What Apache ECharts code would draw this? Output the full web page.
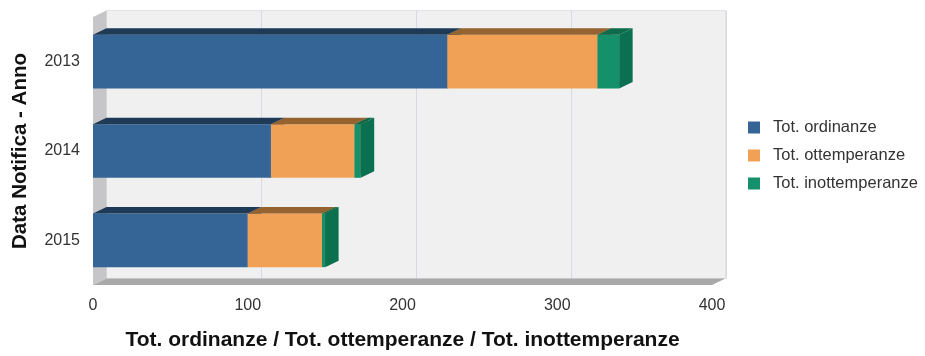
<!DOCTYPE html>
<html>
<head>
<meta charset="utf-8">
<script src="https://cdn.jsdelivr.net/npm/echarts@6/dist/echarts.min.js"></script>
<style>html,body{margin:0;padding:0;background:#fff;}#c{width:925px;height:356px;}</style>
</head>
<body>
<div id="c"></div>
<script>
const categories = ['2013', '2014', '2015'];
const seriesNames = ['Tot. ordinanze', 'Tot. ottemperanze', 'Tot. inottemperanze'];
const ordinanze = [229, 115, 100];
const ottemperanze = [97, 54, 48];
const inottemperanze = [14, 4, 2];
const xTicks = [0, 100, 200, 300, 400];

const DX = 13.5, DY = -6.5;
const FONT = 'Liberation Sans, Arial, sans-serif';
const palette = [
  { front: '#356597', top: '#1e3a57', side: '#274d74' },
  { front: '#f1a155', top: '#956330', side: '#c57e3c' },
  { front: '#14906a', top: '#0d6a4b', side: '#0b7050' }
];

const values = [ordinanze, ottemperanze, inottemperanze];
const stacked = values.map((arr, si) => arr.map((v, ci) => {
  let start = 0;
  for (let k = 0; k < si; k++) start += values[k][ci];
  return [ci, start, start + v];
}));

function barItem(colors) {
  return function (params, api) {
    const c = api.value(0), s = api.value(1), e = api.value(2);
    const p0 = api.coord([s, c]), p1 = api.coord([e, c]);
    const h = api.size([0, 1])[1] * 0.6;
    const x0 = p0[0], x1 = p1[0], y0 = p0[1] - h / 2, y1 = y0 + h;
    return {
      type: 'group',
      children: [
        { type: 'rect', shape: { x: x0, y: y0, width: x1 - x0, height: h }, style: { fill: colors.front } },
        { type: 'polygon', shape: { points: [[x0, y0], [x0 + DX, y0 + DY], [x1 + DX, y0 + DY], [x1, y0]] }, style: { fill: colors.top } },
        { type: 'polygon', shape: { points: [[x1, y0], [x1 + DX, y0 + DY], [x1 + DX, y1 + DY], [x1, y1]] }, style: { fill: colors.side } }
      ]
    };
  };
}

function frameItem(params, api) {
  const cs = params.coordSys;
  const top = cs.y, bot = cs.y + cs.height;
  const x0 = api.coord([xTicks[0], 0])[0];
  const x1 = api.coord([xTicks[xTicks.length - 1], 0])[0];
  const children = [
    { type: 'rect', shape: { x: x0 + DX, y: top + DY, width: x1 - x0, height: bot - top }, style: { fill: '#f0f0f1', stroke: '#e2e2e6', lineWidth: 1 } }
  ];
  xTicks.slice(1).forEach(v => {
    const x = Math.round(api.coord([v, 0])[0] + DX) + 0.5;
    children.push({ type: 'line', shape: { x1: x, y1: top + DY, x2: x, y2: bot + DY }, style: { stroke: '#d9d9e1', lineWidth: 1 } });
  });
  children.push({ type: 'polygon', shape: { points: [[x0, top], [x0 + DX, top + DY], [x0 + DX, bot + DY], [x0, bot]] }, style: { fill: '#c6c6c8' } });
  children.push({ type: 'polygon', shape: { points: [[x0, bot], [x0 + DX, bot + DY], [x1 + DX, bot + DY], [x1, bot]] }, style: { fill: '#a9a9aa' } });
  return { type: 'group', children: children };
}

const series = [{
  type: 'custom', name: '__frame', silent: true, z: 1,
  renderItem: frameItem, data: [[0, 0, 0]],
  encode: { x: 1, y: 0 }, tooltip: { show: false }
}];
seriesNames.forEach((n, i) => {
  series.push({
    type: 'custom', name: n, z: 2 + i,
    itemStyle: { color: palette[i].front },
    renderItem: barItem(palette[i]),
    encode: { x: [1, 2], y: 0 },
    data: stacked[i]
  });
});

const chart = echarts.init(document.getElementById('c'), null, { renderer: 'canvas' });
chart.setOption({
  animation: false,
  textStyle: { fontFamily: FONT },
  grid: { left: 93, right: 213, top: 17, bottom: 68 },
  legend: {
    data: seriesNames,
    orient: 'vertical', left: 743, top: 114,
    icon: 'rect', itemWidth: 12, itemHeight: 12, itemGap: 11,
    textStyle: { fontSize: 16.5, color: '#333', fontFamily: FONT, padding: [0, 0, 0, 8] }
  },
  xAxis: {
    type: 'value', min: 0, max: 400, interval: 100,
    axisLine: { show: false }, axisTick: { show: false }, splitLine: { show: false },
    axisLabel: { fontSize: 16, color: '#333', margin: 13, fontFamily: FONT },
    name: 'Tot. ordinanze / Tot. ottemperanze / Tot. inottemperanze',
    nameLocation: 'middle', nameGap: 45,
    nameTextStyle: { fontSize: 21, fontWeight: 'bold', color: '#111', fontFamily: FONT }
  },
  yAxis: {
    type: 'category', data: categories, inverse: true,
    axisLine: { show: false }, axisTick: { show: false }, splitLine: { show: false },
    axisLabel: { fontSize: 16, color: '#333', margin: 13, fontFamily: FONT },
    name: 'Data Notifica - Anno',
    nameLocation: 'middle', nameGap: 62,
    nameTextStyle: { fontSize: 20.5, fontWeight: 'bold', color: '#111', fontFamily: FONT }
  },
  series: series
});
</script>
</body>
</html>
